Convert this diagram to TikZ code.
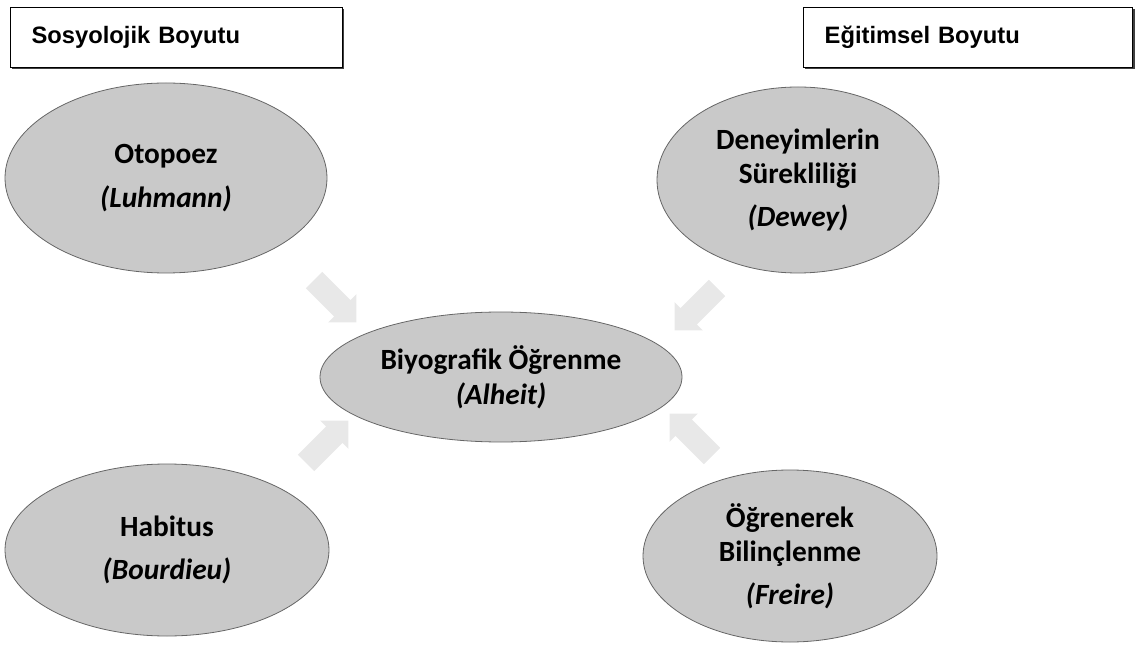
\documentclass[tikz,border=0pt]{standalone}
\usepackage{fontspec}
\setmainfont{Carlito}
\newfontfamily\boxfont{Liberation Sans}
\usetikzlibrary{shapes.geometric,shadows}

\tikzset{
  theory/.style={ellipse, draw=black!60, line width=0.6pt, fill=black!21,
    inner sep=0pt, align=center, font=\bfseries\fontsize{22}{25.5}\selectfont},
  dimbox/.style={rectangle, draw=black, line width=0.5pt, fill=white, anchor=north west,
    drop shadow={shadow xshift=1.6pt, shadow yshift=-1.6pt, fill=black!75, opacity=1},
    minimum height=45pt, inner xsep=16pt, align=left, font=\boxfont\bfseries\fontsize{17.8}{20}\selectfont},
  flowarrow/.style={fill=black!9, draw=none}
}

\begin{document}
\begin{tikzpicture}[x=0.75pt,y=-0.75pt]
  \useasboundingbox (0,0) rectangle (1138,648);
  % dimension boxes
  \node[dimbox, text width=217pt] (sos) at (10,7) {Sosyolojik Boyutu};
  \node[dimbox, text width=215pt] (egi) at (803,7) {Eğitimsel Boyutu};
  % block arrows towards the centre
  \coordinate (a1) at (314,280);
  \coordinate (a2) at (717,288);
  \coordinate (a3) at (306,463);
  \coordinate (a4) at (712,456);
  \foreach \p/\ang in {a1/-45, a2/-135, a3/45, a4/135}{
     \fill[flowarrow, shift={(\p)}, rotate=\ang]
       (0,-11.5) -- (40,-11.5) -- (40,-20) -- (60,0) -- (40,20) -- (40,11.5) -- (0,11.5) -- cycle;
  }
  % theories
  \node[theory, minimum width=241.5pt, minimum height=142.5pt] (oto) at (166,178)
     {Otopoez\\[7pt] \textit{(Luhmann)}};
  \node[theory, minimum width=211.5pt, minimum height=139.5pt] (den) at (798,180)
     {Deneyimlerin\\ Sürekliliği\\[7pt] \textit{(Dewey)}};
  \node[theory, minimum width=271.5pt, minimum height=97.5pt] (bio) at (501,377)
     {Biyografik Öğrenme\\[1pt] \textit{(Alheit)}};
  \node[theory, minimum width=243pt, minimum height=129pt] (hab) at (167,550)
     {Habitus\\[7pt] \textit{(Bourdieu)}};
  \node[theory, minimum width=220.5pt, minimum height=129pt] (ogr) at (790,556)
     {Öğrenerek\\ Bilinçlenme\\[7pt] \textit{(Freire)}};
\end{tikzpicture}
\end{document}
